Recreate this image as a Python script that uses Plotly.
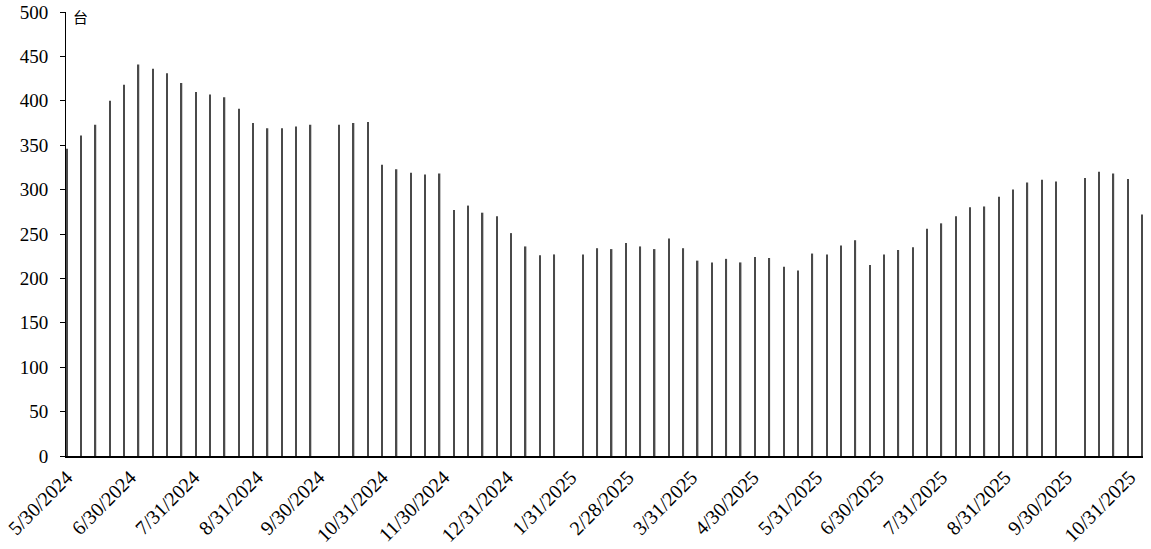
import plotly.graph_objects as go
import pandas as pd

# Weekly dates (Thursdays); holiday weeks 2024-10-03, 2025-01-30, 2025-10-02 missing
all_weeks = pd.date_range("2024-05-30", "2025-11-06", freq="7D")
missing = pd.to_datetime(["2024-10-03", "2025-01-30", "2025-10-02"])
dates = [d for d in all_weeks if d not in missing]

values = [
    346, 361, 373, 400, 418, 441, 436, 431, 420, 410, 407, 404, 391, 375, 369, 369, 371, 373,
    373, 375, 376, 328, 323, 319, 317, 318, 277, 282, 274, 270, 251, 236, 226, 227,
    227, 234, 233, 240, 236, 233, 245, 234, 220, 218, 222, 218, 224, 223, 213, 209,
    228, 227, 237, 243, 215, 227, 232, 235, 256, 262, 270, 280, 281, 292, 300, 308, 311, 309,
    313, 320, 318, 312, 272,
]

tick_dates = ["2024-05-30", "2024-06-30", "2024-07-31", "2024-08-31", "2024-09-30", "2024-10-31",
              "2024-11-30", "2024-12-31", "2025-01-31", "2025-02-28", "2025-03-31", "2025-04-30",
              "2025-05-31", "2025-06-30", "2025-07-31", "2025-08-31", "2025-09-30", "2025-10-31"]
tick_labels = ["5/30/2024", "6/30/2024", "7/31/2024", "8/31/2024", "9/30/2024", "10/31/2024",
               "11/30/2024", "12/31/2024", "1/31/2025", "2/28/2025", "3/31/2025", "4/30/2025",
               "5/31/2025", "6/30/2025", "7/31/2025", "8/31/2025", "9/30/2025", "10/31/2025"]
unit_label = "台"

fig = go.Figure()
fig.add_trace(go.Bar(
    x=dates, y=values,
    width=0.7 * 86400000,
    marker=dict(color="#4a4a4a", line=dict(width=0)),
))

serif = "Liberation Serif, Times New Roman, serif"
fig.update_layout(
    width=1151, height=549,
    margin=dict(l=66, r=8, t=12, b=93),
    plot_bgcolor="white", paper_bgcolor="white",
    showlegend=False,
    font=dict(family=serif, color="black"),
    xaxis=dict(
        type="date",
        range=["2024-05-29 14:00", "2025-11-06 10:00"],
        tickvals=tick_dates, ticktext=tick_labels,
        tickangle=-45,
        automargin=False,
        ticklabeloverflow="allow",
        showgrid=False, zeroline=False,
        showline=True, linecolor="black", linewidth=1.5,
        ticks="",
        tickfont=dict(family=serif, size=20, color="black"),
    ),
    yaxis=dict(
        range=[0, 500], dtick=50,
        automargin=False,
        ticklabeloverflow="allow",
        showgrid=False, zeroline=False,
        showline=True, linecolor="black", linewidth=1,
        ticks="outside", ticklen=5, tickcolor="black",
        ticklabelstandoff=8,
        tickfont=dict(family=serif, size=19, color="black"),
    ),
    annotations=[dict(
        text=unit_label, xref="paper", yref="paper",
        x=0.013, y=0.99, xanchor="center", yanchor="middle",
        showarrow=False,
        font=dict(family="Noto Sans CJK SC", size=15, color="black"),
    )],
)

fig.write_html("out.html", config={"displayModeBar": False},
               post_script="document.body.style.margin='0';")
